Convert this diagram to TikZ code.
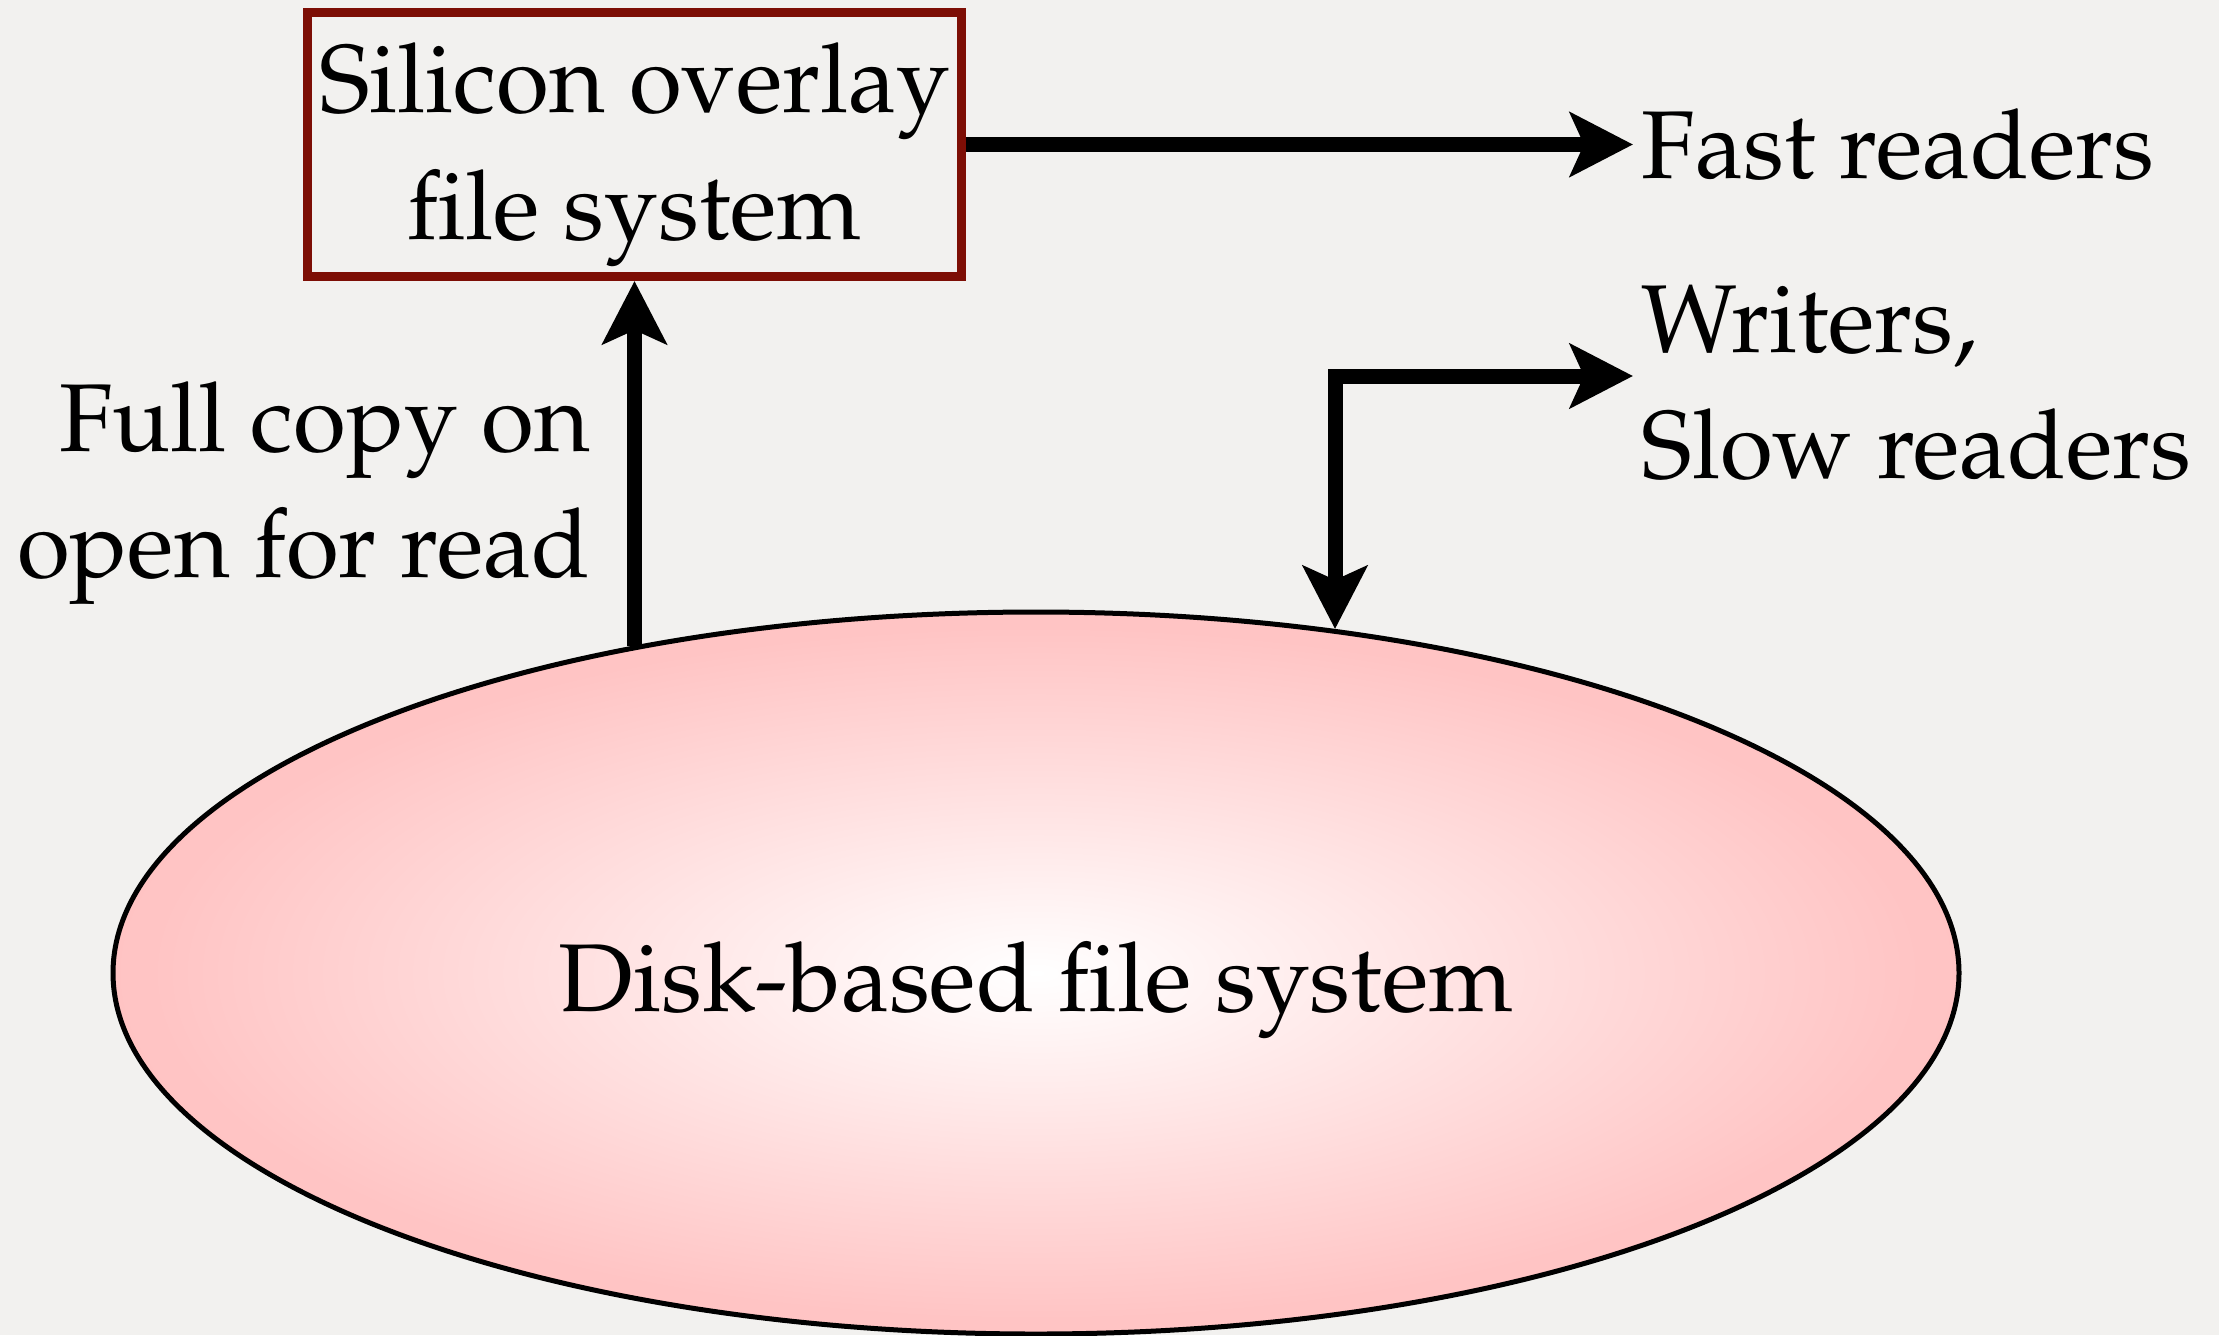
\documentclass[tikz,border=0pt]{standalone}
\usepackage[T1]{fontenc}
\usepackage{mathpazo}
\usetikzlibrary{shapes.geometric,arrows.meta,positioning}
\definecolor{paper}{RGB}{242,241,239}
\definecolor{boxred}{RGB}{125,14,5}
\definecolor{diskmid}{RGB}{255,196,196}
\definecolor{diskedge}{RGB}{255,183,183}
\definecolor{diskrim}{RGB}{255,136,136}
\pgfdeclareradialshading{diskglow}{\pgfpoint{0bp}{0bp}}{color(0bp)=(white); color(24bp)=(diskmid); color(45bp)=(diskedge); color(50bp)=(diskrim)}
\tikzstyle{fsbox} = [draw=boxred,line width=0.9mm,minimum width=65.4mm,minimum height=26.4mm,align=center,inner sep=0]
\tikzstyle{disk} = [ellipse,draw,line width=0.5mm,shade,shading=diskglow,minimum width=184.6mm,minimum height=72.2mm]
\tikzstyle{txt} = [inner sep=0.8mm]
\tikzstyle{flow} = [-{Stealth[length=6.3mm,width=6.4mm,inset=1.4mm]},line width=1.5mm]
\tikzstyle{both} = [{Stealth[length=6.3mm,width=6.4mm,inset=1.4mm]}-{Stealth[length=6.3mm,width=6.4mm,inset=1.4mm]},line width=1.5mm]
\def \fs {\fontsize{27.4}{36}\selectfont}

\begin{document}
\begin{tikzpicture}[x=0.1mm,y=-0.1mm,font=\fs]
      \fill[paper] (0,0) rectangle (2219,1335);
      \useasboundingbox (0,0) rectangle (2219,1335);
      \node[disk,text height=10mm,text depth=2.4mm] (disk) at (1036,973) {Disk-based file system};
      \node[fsbox] (silicon) at (634.5,144.5) {\rule{0pt}{9mm}Silicon overlay\\file system};
      \node[txt,anchor=west] (fast) at (1633,144.5) {Fast readers};
      \node[txt,anchor=west,align=left] (writers) at (1633,383) {Writers,\\Slow readers};
      \node[txt,anchor=east,align=right] (copy) at (599,493) {Full copy on\\open for read};
      \draw[flow] (silicon.east) -- (fast.west);
      \draw[flow] (silicon.south |- disk.141) -- (silicon.south);
      \draw[both,line join=miter] (disk.49) |- ([yshift=0.7mm]writers.west);
    \end{tikzpicture}
\end{document}
